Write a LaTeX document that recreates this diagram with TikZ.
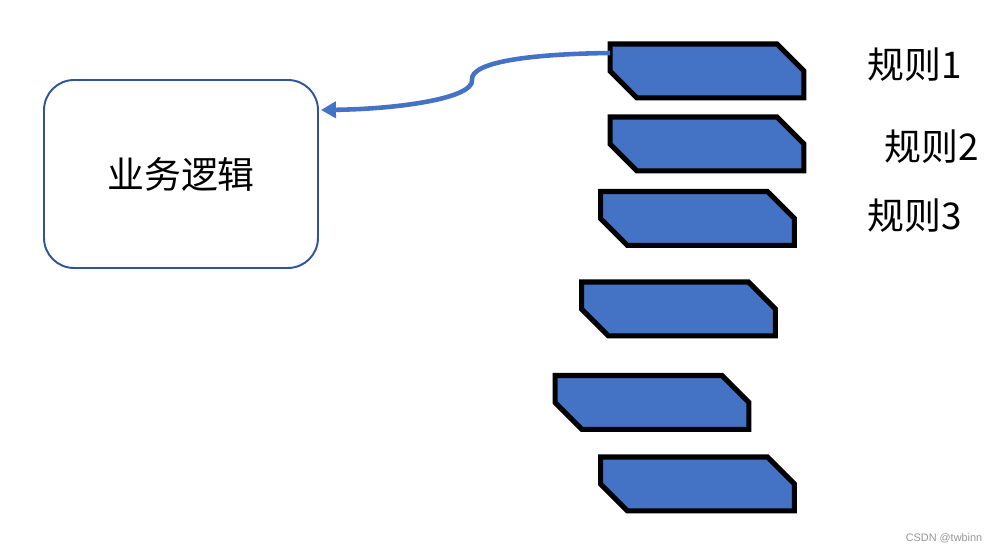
\documentclass[tikz,border=0pt]{standalone}
\usepackage{fontspec}
\usepackage{tikz}
\usetikzlibrary{arrows.meta,calc}
\newfontfamily\cjk{Noto Sans CJK SC}
\newfontfamily\wmfont{Liberation Sans}
\definecolor{ruleblue}{RGB}{68,114,196}
\definecolor{boxblue}{RGB}{47,85,151}
\definecolor{wmgray}{RGB}{150,150,150}

\begin{document}
\begin{tikzpicture}[x=0.02cm, y=-0.02cm, font=\cjk\fontsize{21}{25}\selectfont,
    bizbox/.style={draw=boxblue, line width=1.1pt, rounded corners=0.6cm, minimum width=5.48cm, minimum height=3.76cm, inner sep=0pt},
    rulebox/.style={minimum width=3.88cm, minimum height=1.08cm, inner sep=0pt, outer sep=0pt},
    ruleline/.style={draw=black, fill=ruleblue, line width=2.85pt},
    flow/.style={draw=ruleblue, line width=2.6pt, -{Triangle[length=0.3cm,width=0.32cm]}}]
  \useasboundingbox (0,0) rectangle (998,553);
  \node[bizbox] (biz) at (181,174) {业务逻辑};
  % rule blocks
  \foreach \n/\x/\y in {r1/707/71, r2/707/144, r3/697.5/218.5, r4/678.5/309, r5/652/402.5, r6/697.5/484} {
    \node[rulebox] (\n) at (\x,\y) {};
    \draw[ruleline] (\n.north west) -- ($(\n.north east)+(-27,0)$) -- ($(\n.north east)+(0,27)$)
      -- (\n.south east) -- ($(\n.south west)+(27,0)$) -- ($(\n.south west)+(0,-27)$) -- cycle;
  }
  \node (l1) at (915,65) {规则1};
  \node (l2) at (932,147) {规则2};
  \node (l3) at (915,216) {规则3};
  % arrow back to the logic box
  \coordinate (kink) at (472,80);
  \draw[flow] ($(r1.north west)+(0,9)$) .. controls (530,54) and (470,62) .. (kink)
    .. controls (474,98) and (400,109) .. ($(biz.east)+(2,-64)$);
  \node[font=\wmfont\fontsize{6.2}{7}\selectfont, text=wmgray] (wm) at (944,538) {CSDN @twbinn};
\end{tikzpicture}
\end{document}
